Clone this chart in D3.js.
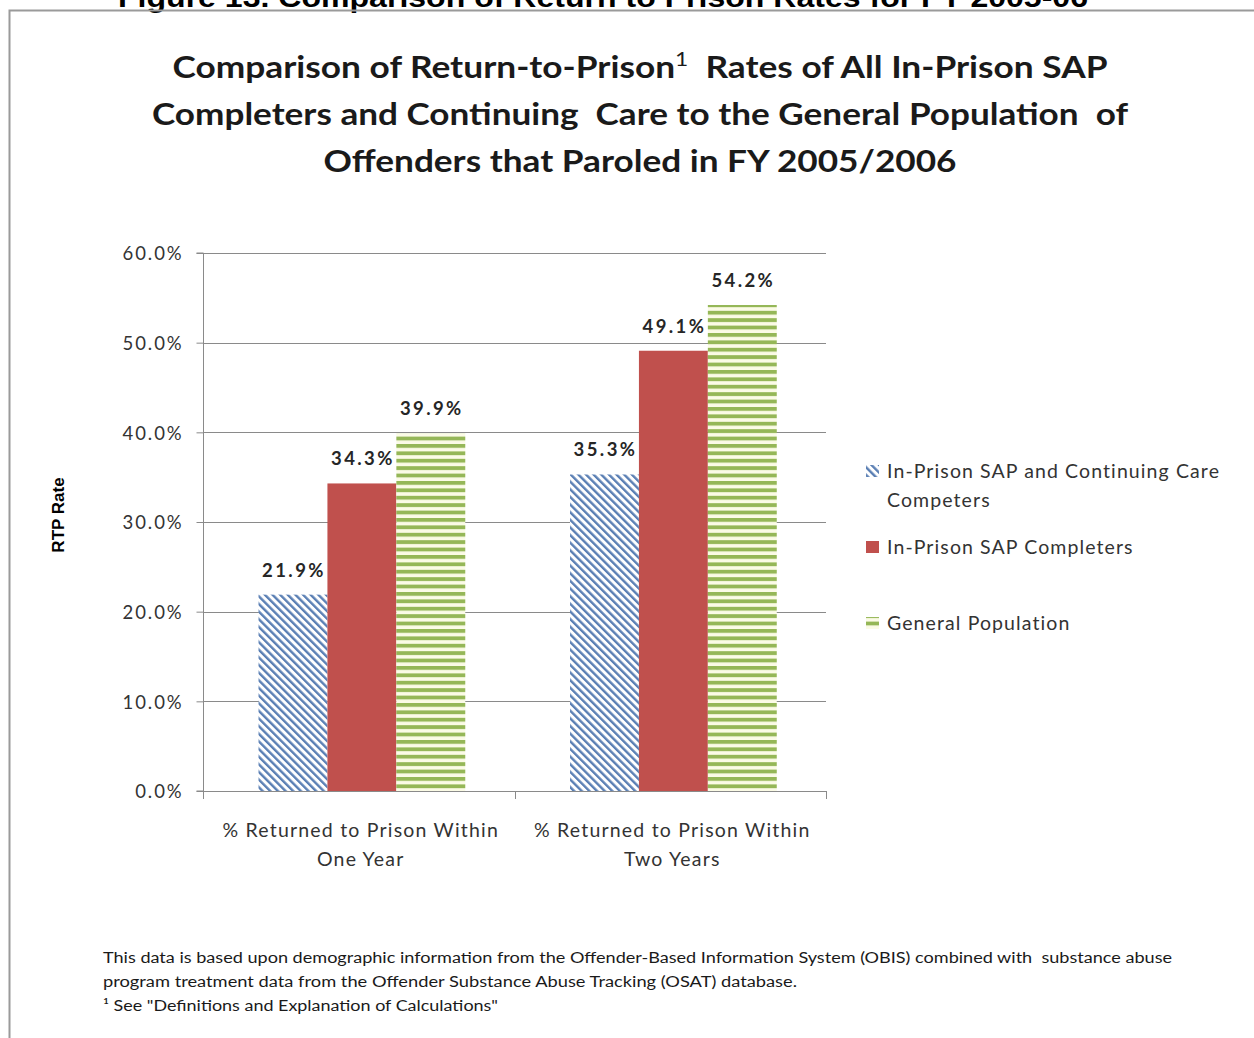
<!DOCTYPE html>
<html>
<head>
<meta charset="utf-8">
<script src="https://cdn.jsdelivr.net/npm/d3@7/dist/d3.min.js"></script>
<style>
  html, body { margin: 0; padding: 0; background: #ffffff; }
  svg { display: block; }
</style>
</head>
<body>
<svg id="chart" width="1254" height="1038"></svg>
<script>
// Return-to-prison rates by follow-up period
const categories = [
  ["% Returned to Prison Within", "One Year"],
  ["% Returned to Prison Within", "Two Years"]
];
const seriesNames = [
  ["In-Prison SAP and Continuing Care", "Competers"],
  ["In-Prison SAP Completers"],
  ["General Population"]
];
const sapContinuingCare = [21.9, 35.3];
const sapCompleters = [34.3, 49.1];
const generalPopulation = [39.9, 54.2];
const yTicks = [0, 10, 20, 30, 40, 50, 60];

const seriesValues = [sapContinuingCare, sapCompleters, generalPopulation];

const svg = d3.select("#chart");
const font = "Lato, 'Open Sans', sans-serif";

// fill patterns
const defs = svg.append("defs");
const diag = defs.append("pattern")
  .attr("id", "diagBlue").attr("patternUnits", "userSpaceOnUse")
  .attr("width", 5.4).attr("height", 5.4)
  .attr("patternTransform", "rotate(-45)");
diag.append("rect").attr("width", 5.4).attr("height", 5.4).attr("fill", "#ffffff");
diag.append("rect").attr("x", 0).attr("y", 0).attr("width", 2.4).attr("height", 5.4).attr("fill", "#5a7fb4");

const horiz = defs.append("pattern")
  .attr("id", "horizGreen").attr("patternUnits", "userSpaceOnUse")
  .attr("width", 8).attr("height", 7.4);
horiz.append("rect").attr("width", 8).attr("height", 7.4).attr("fill", "#fbfbe6");
horiz.append("rect").attr("y", 0).attr("width", 8).attr("height", 3.8).attr("fill", "#95b757");

const fills = ["url(#diagBlue)", "#c0504d", "url(#horizGreen)"];

// caption above the frame (runs past the top edge of the page)
svg.append("text")
  .attr("x", 603).attr("y", 7)
  .attr("text-anchor", "middle")
  .attr("font-family", "'Liberation Sans', Arial, sans-serif")
  .attr("font-weight", "bold")
  .attr("font-size", 27)
  .attr("textLength", 970).attr("lengthAdjust", "spacingAndGlyphs")
  .attr("fill", "#000")
  .text("Figure 13. Comparison of Return to Prison Rates for FY 2005-06");

// chart frame
svg.append("rect")
  .attr("x", 9.5).attr("y", 10.5).attr("width", 1400).attr("height", 1200)
  .attr("fill", "none").attr("stroke", "#9a9a9a").attr("stroke-width", 2);

// title
const titleLines = [
  { x: 640, y: 78, w: 935, parts: [["Comparison of Return-to-Prison", false], ["1", true], ["  Rates of All In-Prison SAP", false]] },
  { x: 640, y: 125, w: 976, parts: [["Completers and Continuing  Care to the General Population  of", false]] },
  { x: 640, y: 172, w: 633, parts: [["Offenders that Paroled in FY 2005/2006", false]] }
];
titleLines.forEach(l => {
  const t = svg.append("text")
    .attr("x", l.x).attr("y", l.y)
    .attr("text-anchor", "middle")
    .attr("font-family", font).attr("font-weight", "bold")
    .attr("font-size", 31).attr("fill", "#1a1a1a")
    .attr("textLength", l.w).attr("lengthAdjust", "spacingAndGlyphs")
    .style("white-space", "pre");
  l.parts.forEach(p => {
    const ts = t.append("tspan").text(p[0]);
    if (p[1]) ts.attr("baseline-shift", "super").attr("font-size", 20).attr("font-weight", "normal");
  });
});

// scales
const plotLeft = 203, plotRight = 826, plotTop = 253, plotBottom = 791;
const y = d3.scaleLinear().domain([0, 60]).range([plotBottom, plotTop]);
const x0 = d3.scaleBand().domain(d3.range(categories.length)).range([plotLeft, plotRight]).padding(0);
const x1 = d3.scaleBand().domain(d3.range(seriesValues.length))
  .range([0, x0.bandwidth()]).paddingInner(0).paddingOuter(0.76).align(0.53);

// gridlines
svg.append("g").selectAll("line").data(yTicks.filter(d => d > 0)).join("line")
  .attr("x1", plotLeft).attr("x2", plotRight)
  .attr("y1", d => Math.round(y(d)) + 0.5).attr("y2", d => Math.round(y(d)) + 0.5)
  .attr("stroke", "#8a8a8a").attr("stroke-width", 1);

// bars
const groups = svg.append("g").selectAll("g").data(d3.range(categories.length)).join("g")
  .attr("transform", i => `translate(${x0(i)},0)`);
groups.selectAll("rect")
  .data(i => seriesValues.map((vals, s) => ({ s, v: vals[i] })))
  .join("rect")
  .attr("x", d => x1(d.s)).attr("width", x1.bandwidth())
  .attr("y", d => y(d.v)).attr("height", d => plotBottom - y(d.v))
  .attr("fill", d => fills[d.s]);

// value labels
groups.selectAll("text.val")
  .data(i => seriesValues.map((vals, s) => ({ s, v: vals[i] })))
  .join("text").attr("class", "val")
  .attr("x", d => x1(d.s) + x1.bandwidth() / 2 + 1)
  .attr("y", d => y(d.v) - 18)
  .attr("text-anchor", "middle")
  .attr("font-family", font).attr("font-weight", "bold")
  .attr("font-size", 18.5).attr("fill", "#262626")
  .attr("letter-spacing", 2.4)
  .text(d => d.v.toFixed(1) + "%");

// y axis
const yAxis = svg.append("g").attr("transform", `translate(${plotLeft + 0.5},0)`)
  .call(d3.axisLeft(y).tickValues(yTicks).tickSize(7).tickPadding(13).tickFormat(d => d.toFixed(1) + "%"));
yAxis.select(".domain").attr("stroke", "#8a8a8a").attr("d", `M-7,${plotTop}H0V${plotBottom}H-7`);
yAxis.selectAll(".tick line").attr("stroke", "#8a8a8a");
yAxis.selectAll(".tick text")
  .attr("font-family", font).attr("font-size", 18.5).attr("fill", "#333")
  .attr("letter-spacing", 1.9).attr("dy", "0.36em");

// x axis: baseline with category boundary ticks
svg.append("line")
  .attr("x1", plotLeft).attr("x2", plotRight)
  .attr("y1", plotBottom + 0.5).attr("y2", plotBottom + 0.5)
  .attr("stroke", "#8a8a8a");
const bounds = [plotLeft, ...d3.range(categories.length).map(i => x0(i) + x0.bandwidth())];
svg.append("g").selectAll("line").data(bounds).join("line")
  .attr("x1", d => Math.round(d) + 0.5).attr("x2", d => Math.round(d) + 0.5)
  .attr("y1", plotBottom).attr("y2", plotBottom + 8)
  .attr("stroke", "#8a8a8a");

// category labels
const catText = svg.append("g").selectAll("text").data(categories).join("text")
  .attr("text-anchor", "middle")
  .attr("font-family", font).attr("font-size", 19.5).attr("fill", "#333")
  .attr("letter-spacing", 1.2);
catText.each(function (lines, i) {
  const cx = x0(i) + x0.bandwidth() / 2;
  d3.select(this).selectAll("tspan").data(lines).join("tspan")
    .attr("x", cx + 2).attr("y", (d, k) => 837 + k * 29)
    .text(d => d);
});

// y axis title
svg.append("text")
  .attr("transform", "translate(64,515) rotate(-90)")
  .attr("text-anchor", "middle")
  .attr("font-family", "'Liberation Sans', Arial, sans-serif")
  .attr("font-weight", "bold").attr("font-size", 17).attr("fill", "#000")
  .text("RTP Rate");

// legend
const legendRows = [478, 554, 630];
const legend = svg.append("g");
seriesNames.forEach((lines, s) => {
  const yy = legendRows[s];
  legend.append("rect")
    .attr("x", 866).attr("y", yy - 13).attr("width", 13).attr("height", 12)
    .attr("fill", fills[s]);
  const t = legend.append("text")
    .attr("font-family", font).attr("font-size", 19.5).attr("fill", "#333")
    .attr("letter-spacing", 1.1);
  lines.forEach((ln, k) => {
    t.append("tspan").attr("x", 887).attr("y", yy + k * 29).text(ln);
  });
});

// source notes
const notes = [
  "This data is based upon demographic information from the Offender-Based Information System (OBIS) combined with  substance abuse",
  "program treatment data from the Offender Substance Abuse Tracking (OSAT) database.",
  "\u00B9 See \"Definitions and Explanation of Calculations\""
];
const noteWidths = [1069, 694, 395];
svg.append("g").selectAll("text").data(notes).join("text")
  .attr("x", 103).attr("y", (d, i) => 963 + i * 24)
  .attr("font-family", font).attr("font-size", 15.5).attr("fill", "#1a1a1a")
  .attr("textLength", (d, i) => noteWidths[i]).attr("lengthAdjust", "spacingAndGlyphs")
  .style("white-space", "pre")
  .text(d => d);
</script>
</body>
</html>
